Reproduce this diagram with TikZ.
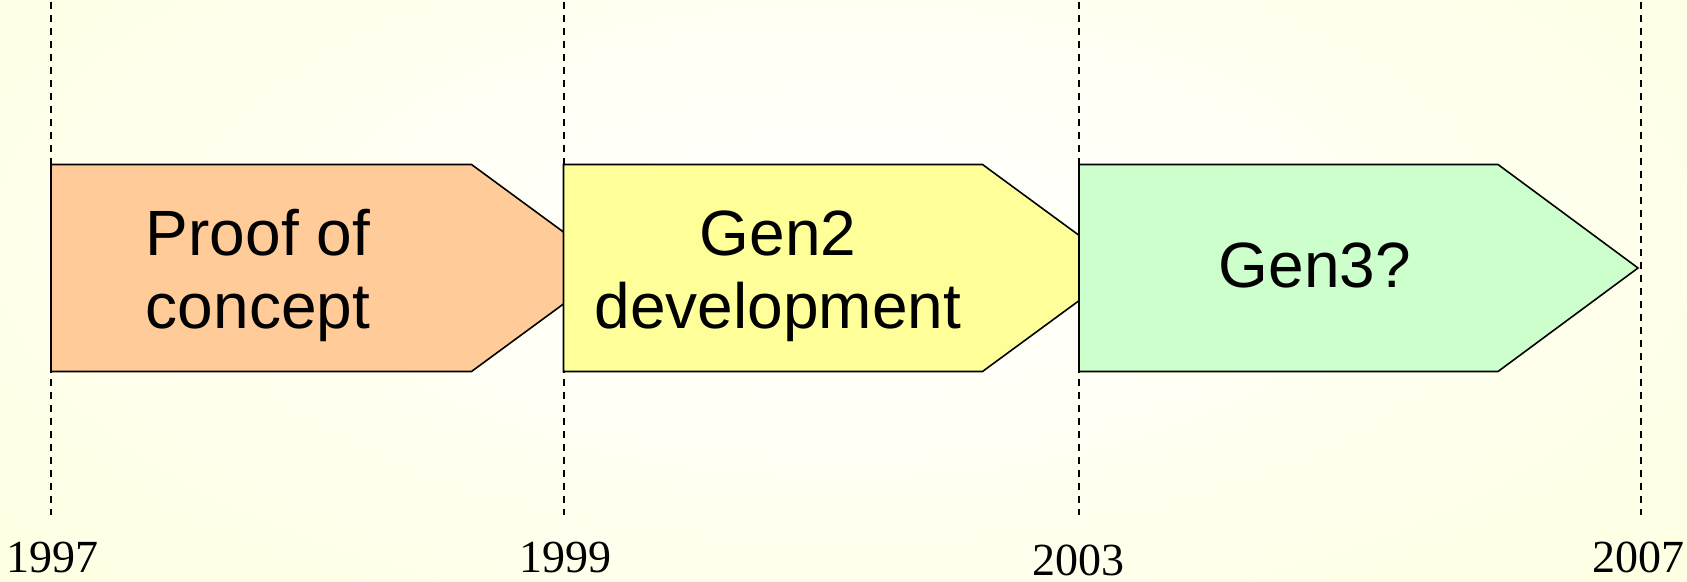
\documentclass[tikz,border=0pt]{standalone}
\usepackage{fontspec}
\newfontfamily\labfont{Liberation Sans}
\newfontfamily\yearfont{Liberation Serif}
\definecolor{bgyel}{HTML}{FFFFD2}
\definecolor{peach}{HTML}{FFCC99}
\definecolor{lemon}{HTML}{FFFF99}
\definecolor{mint}{HTML}{CCFFCC}
\tikzset{
  grid line/.style={draw=black, line width=1pt, dash pattern=on 3.5pt off 3pt},
  chevron/.style={draw=black, line width=0.8pt, line join=miter},
  boxlabel/.style={font=\labfont\fontsize{32}{36.5}\selectfont, align=center, anchor=base, inner sep=0pt},
  yearlabel/.style={font=\yearfont\fontsize{23}{26}\selectfont, anchor=base, inner sep=0pt}
}
\begin{document}
\begin{tikzpicture}[x=0.5pt,y=-0.5pt]
\useasboundingbox (0,0) rectangle (1687,582);
\fill[white] (0,0) rectangle (1687,582);
\shade[inner color=white, outer color=bgyel] (-937,-559) rectangle (2624,1041);
% year grid lines
\foreach \n/\x in {a/51,b/563.5,c/1079,d/1640.5}{
  \coordinate (\n top) at (\x,2);
  \coordinate (\n bot) at (\x,515);
  \draw[grid line] (\n top) -- (\n bot);
}
% chevrons
\draw[chevron, fill=peach] (51,164.5) -- (471.5,164.5) -- (612.5,268) -- (471.5,371.5) -- (51,371.5) -- cycle;
\draw[chevron, fill=lemon] (563.5,164.5) -- (982.5,164.5) -- (1123.5,268) -- (982.5,371.5) -- (563.5,371.5) -- cycle;
\draw[chevron, fill=mint] (1079,164.5) -- (1498,164.5) -- (1638,268) -- (1498,371.5) -- (1079,371.5) -- cycle;
% labels
\node[boxlabel] (proof) at (258,329) {Proof of\\concept};
\node[boxlabel] (gen2) at (778,329) {Gen2\\development};
\node[boxlabel] (gen3) at (1315,288) {Gen3?};
\node[yearlabel] (y1997) at (52,572) {1997};
\node[yearlabel] (y1999) at (565,573) {1999};
\node[yearlabel] (y2003) at (1078,575) {2003};
\node[yearlabel] (y2007) at (1638,572) {2007};
\end{tikzpicture}
\end{document}
